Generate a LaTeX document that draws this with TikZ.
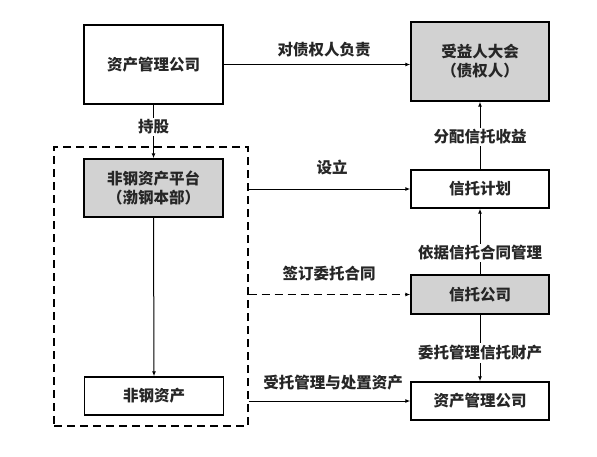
\documentclass[tikz,border=0pt]{standalone}
\usepackage{fontspec}
\newfontfamily\cjk{Noto Sans CJK SC}
\usetikzlibrary{arrows.meta}
\begin{document}
\begin{tikzpicture}[x=1pt,y=-1pt,
  every node/.style={font=\cjk\bfseries\fontsize{15.5}{19}\selectfont, inner sep=1pt, text=black!85},
  box/.style={draw=black, line width=1.4pt, minimum width=139pt, align=center, inner sep=0pt},
  graybox/.style={box, fill=gray!35},
  arr/.style={line width=1pt, -{Latex[length=5pt,width=4pt]}},
  lbl/.style={fill=white, inner sep=2pt},
  dashline/.style={line width=1.2pt, dash pattern=on 8pt off 5pt}]
\useasboundingbox (0,0) rectangle (597,456);
\fill[white] (0,0) rectangle (597,456);
% left column
\node[box, minimum height=79pt] (A) at (153.5,64.5) {资产管理公司};
\node[graybox, minimum height=58pt] (B) at (153.5,188) {非钢资产平台\\（渤钢本部）};
\node[box, minimum height=38pt] (C) at (154,396) {非钢资产};
\node[draw=black, dashline, minimum width=194pt, minimum height=279pt, inner sep=0pt] (dbox) at (151,286.5) {};
% right column
\node[graybox, minimum width=138pt, minimum height=79pt] (D) at (480,61.5) {受益人大会\\（债权人）};
\node[box, minimum width=138pt, minimum height=38pt] (E) at (480,189) {信托计划};
\node[graybox, minimum width=138pt, minimum height=39pt] (F) at (480,294.5) {信托公司};
\node[box, minimum width=138pt, minimum height=38pt] (G) at (480,401) {资产管理公司};
% connectors
\draw[arr] (A.east) -- (A.east -| D.west);
\node (l1) at (324,50) {对债权人负责};
\draw[arr] (A.south) -- (B.north);
\node[lbl] (l2) at (153.5,127) {持股};
\draw[arr] (B.south) -- (C.north);
\draw[arr] (E.north) -- (D.south);
\node[lbl] (l3) at (480,137) {分配信托收益};
\draw[arr] (dbox.east |- E.west) -- (E.west);
\node (l4) at (332,167) {设立};
\draw[arr] (F.north) -- (E.south);
\node[lbl] (l5) at (480,253) {依据信托合同管理};
\draw[dashline, -{Latex[length=5pt,width=4pt]}] (dbox.east |- F.west) -- (F.west);
\node (l6) at (329,274) {签订委托合同};
\draw[arr] (F.south) -- (G.north);
\node[lbl] (l7) at (480,353) {委托管理信托财产};
\draw[arr] (dbox.east |- G.west) -- (G.west);
\node (l8) at (333,383) {受托管理与处置资产};
\end{tikzpicture}
\end{document}
